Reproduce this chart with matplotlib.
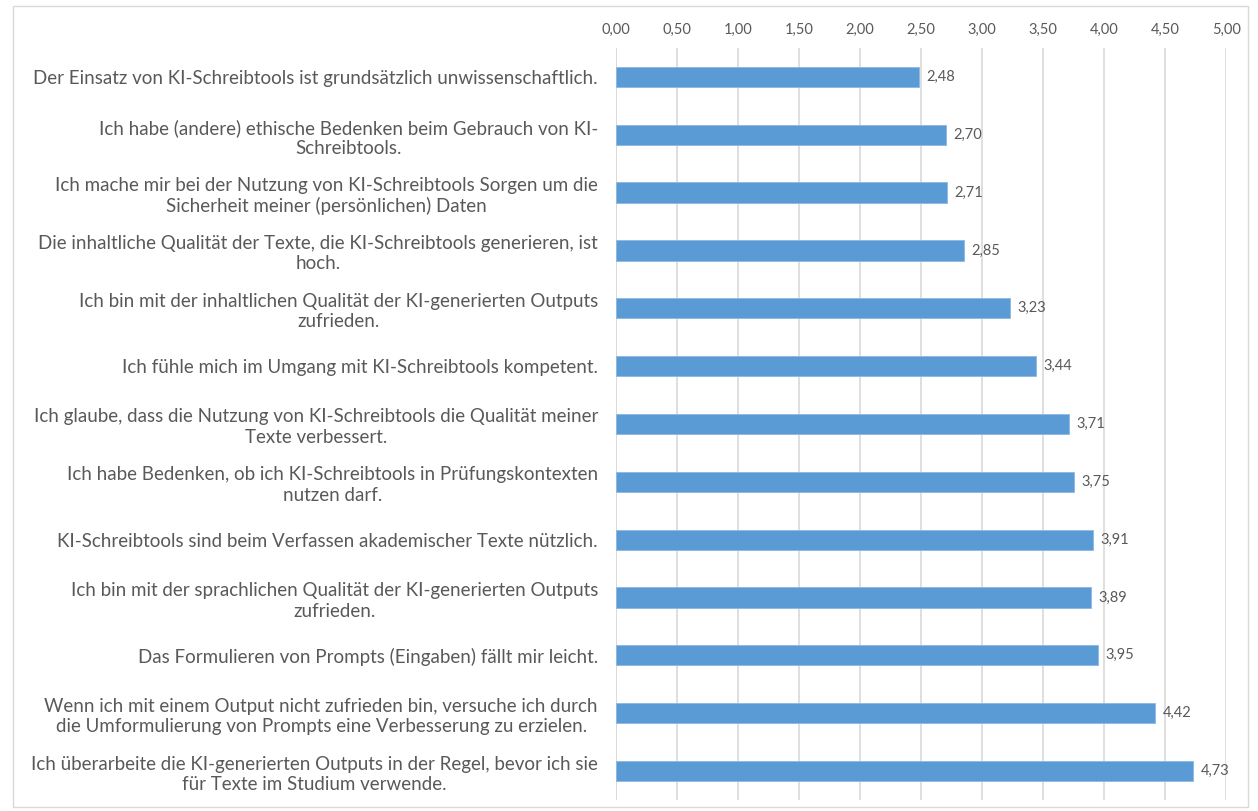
import matplotlib.pyplot as plt
import numpy as np

# statements, top to bottom as in the chart
labels = [
    "Der Einsatz von KI-Schreibtools ist grundsätzlich unwissenschaftlich.",
    "Ich habe (andere) ethische Bedenken beim Gebrauch von KI-\nSchreibtools.",
    "Ich mache mir bei der Nutzung von KI-Schreibtools Sorgen um die\nSicherheit meiner (persönlichen) Daten",
    "Die inhaltliche Qualität der Texte, die KI-Schreibtools generieren, ist\nhoch.",
    "Ich bin mit der inhaltlichen Qualität der KI-generierten Outputs\nzufrieden.",
    "Ich fühle mich im Umgang mit KI-Schreibtools kompetent.",
    "Ich glaube, dass die Nutzung von KI-Schreibtools die Qualität meiner\nTexte verbessert.",
    "Ich habe Bedenken, ob ich KI-Schreibtools in Prüfungskontexten\nnutzen darf.",
    "KI-Schreibtools sind beim Verfassen akademischer Texte nützlich.",
    "Ich bin mit der sprachlichen Qualität der KI-generierten Outputs\nzufrieden.",
    "Das Formulieren von Prompts (Eingaben) fällt mir leicht.",
    "Wenn ich mit einem Output nicht zufrieden bin, versuche ich durch\ndie Umformulierung von Prompts eine Verbesserung zu erzielen.",
    "Ich überarbeite die KI-generierten Outputs in der Regel, bevor ich sie\nfür Texte im Studium verwende.",
]
means = [2.48, 2.70, 2.71, 2.85, 3.23, 3.44, 3.71, 3.75, 3.91, 3.89, 3.95, 4.42, 4.73]
ticks = np.arange(0, 5.01, 0.5)

text_col = "#595959"
bar_col = "#5B9BD5"

plt.rcParams['font.family'] = ['Lato', 'DejaVu Sans']

fig = plt.figure(figsize=(12.58, 8.11), dpi=100)
ax = fig.add_axes([0.4897, 0.0136, 0.485, 0.9272])

y = np.arange(len(labels))
ax.barh(y, means, height=0.35, color=bar_col, edgecolor="#8DB8E2", linewidth=0.6, zorder=3)
for yi, v in zip(y, means):
    ax.text(v + 0.06, yi, f"{v:.2f}".replace(".", ","), va="center", ha="left",
            fontsize=10.5, color=text_col)

ax.set_ylim(len(labels) - 0.5, -0.5)
ax.set_xlim(0, 5)
ax.set_xticks(ticks)
ax.set_xticklabels([f"{t:.2f}".replace(".", ",") for t in ticks], fontsize=10.5, color=text_col)
ax.xaxis.tick_top()
ax.tick_params(axis="x", length=0, pad=8)
ax.set_yticks(y)
ax.set_yticklabels(labels, fontsize=13.5, color=text_col, ha="right",
                   multialignment="center", linespacing=1.25)
ax.tick_params(axis="y", length=0, pad=13)
ax.grid(axis="x", color="#D9D9D9", linewidth=1.2, zorder=0)
for s in ax.spines.values():
    s.set_visible(False)
ax.axvline(0, color="#D9D9D9", linewidth=1.2, zorder=1)

# chart border
fig.patches.append(plt.Rectangle((0.01, 0.005), 0.982, 0.988, transform=fig.transFigure,
                                 fill=False, edgecolor="#D9D9D9", linewidth=1))

fig.savefig("out.png", dpi=100)
